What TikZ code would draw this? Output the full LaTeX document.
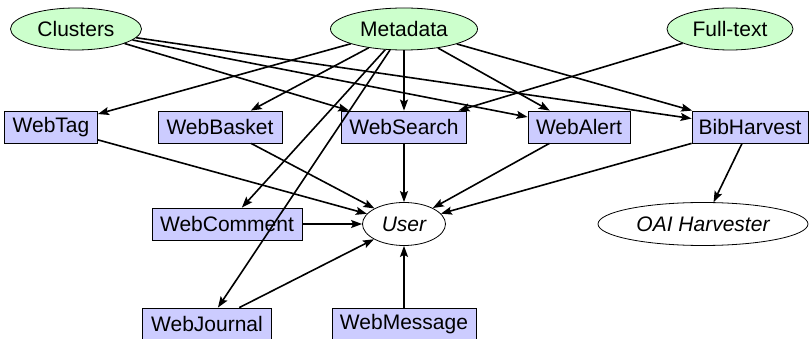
\documentclass[tikz,border=0pt]{standalone}
\usepackage{fontspec}
\setmainfont{Liberation Sans}
\usetikzlibrary{shapes.geometric,arrows.meta}
\definecolor{boxfill}{HTML}{CCCCFF}
\definecolor{srcfill}{HTML}{CCFFCC}
\begin{document}
\begin{tikzpicture}[x=1pt,y=-1pt,
  every node/.style={font=\fontsize{21}{24}\selectfont},
  box/.style={draw,fill=boxfill,rectangle,minimum height=32pt,inner sep=0pt,line width=0.8pt},
  src/.style={draw,fill=srcfill,ellipse,minimum height=42pt,inner sep=0pt,line width=0.8pt},
  sink/.style={draw,fill=white,ellipse,minimum height=43pt,inner sep=0pt,line width=0.8pt,font=\fontsize{21}{24}\selectfont\itshape},
  arr/.style={-{Stealth[length=11pt,width=8pt,inset=2pt]},line width=1.6pt}]
\useasboundingbox (0,0) rectangle (809,339);
\node[src,minimum width=131pt] (clu) at (76,29) {Clusters};
\node[src,minimum width=147pt] (meta) at (404,29) {Metadata};
\node[src,minimum width=126pt] (full) at (730,29) {Full-text};
\node[box,minimum width=93pt] (tag) at (51,127) {WebTag};
\node[box,minimum width=124pt] (basket) at (220,127) {WebBasket};
\node[box,minimum width=125pt] (search) at (404,127) {WebSearch};
\node[box,minimum width=102pt] (alert) at (579,127) {WebAlert};
\node[box,minimum width=116pt] (bib) at (750,127) {BibHarvest};
\node[box,minimum width=150pt] (comment) at (227,224) {WebComment};
\node[sink,minimum width=83pt] (user) at (404,224) {User};
\node[sink,minimum width=210pt] (oai) at (703,224) {OAI Harvester};
\node[box,minimum width=129pt] (journal) at (207,324) {WebJournal};
\node[box,minimum width=144pt] (message) at (404,324) {WebMessage};
\draw[arr] (clu) -- (search);
\draw[arr] (clu) -- (alert);
\draw[arr] (clu) -- (bib);
\draw[arr] (meta) -- (tag);
\draw[arr] (meta) -- (basket);
\draw[arr] (meta) -- (search);
\draw[arr] (meta) -- (alert);
\draw[arr] (meta) -- (bib);
\draw[arr] (meta) -- (comment);
\draw[arr] (meta) -- (journal);
\draw[arr] (full) -- (search);
\draw[arr] (tag) -- (user);
\draw[arr] (basket) -- (user);
\draw[arr] (search) -- (user);
\draw[arr] (alert) -- (user);
\draw[arr] (bib) -- (user);
\draw[arr] (comment) -- (user);
\draw[arr] (journal) -- (user);
\draw[arr] (message) -- (user);
\draw[arr] (bib) -- (oai);
\end{tikzpicture}
\end{document}
